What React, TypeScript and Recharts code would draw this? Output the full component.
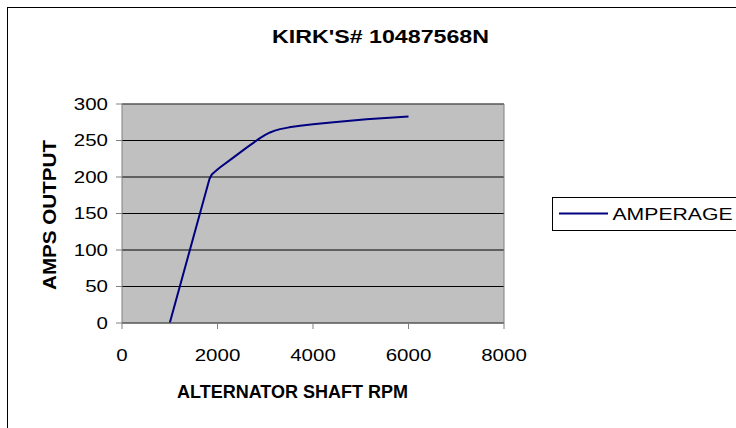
import React from 'react';
import { LineChart, Line, XAxis, YAxis, CartesianGrid, ReferenceLine } from 'recharts';

// readings
const rpm = [1000, 1830, 1880, 1950, 2050, 2330, 2610, 2890, 3000, 3100, 3200, 3310, 3500, 3730, 4000, 4430, 5120, 6000];
const amps = [0, 197, 203.5, 207.5, 213, 226.6, 240.3, 253.3, 257.8, 261, 263.5, 265.6, 268, 270.1, 272.2, 275.1, 279.2, 282.8];
const xTicks = [0, 2000, 4000, 6000, 8000];
const yTicks = [0, 50, 100, 150, 200, 250, 300];

const data = rpm.map((r, i) => ({ rpm: r, amps: amps[i] }));

const FONT = '"Liberation Sans", Arial, sans-serif';
const STRETCH = 1.28;

const YTick = (props: any) => {
  const { x, y, payload } = props;
  return (
    <g transform={`translate(${x - 6},${y}) scale(${STRETCH},1)`}>
      <text x={0} y={0} dy={5.7} textAnchor="end" fontSize={16} fontFamily={FONT} fill="#000">
        {payload.value}
      </text>
    </g>
  );
};

const XTick = (props: any) => {
  const { x, y, payload } = props;
  return (
    <g transform={`translate(${x},${y}) scale(${STRETCH},1)`}>
      <text x={0} y={0} dy={30} textAnchor="middle" fontSize={16} fontFamily={FONT} fill="#000">
        {payload.value}
      </text>
    </g>
  );
};

export default function App() {
  return (
    <div style={{ position: 'absolute', left: 0, top: 0, width: 736, height: 428, overflow: 'hidden', background: '#fff' }}>
      <div style={{ position: 'absolute', left: 7, top: 7, width: 800, height: 500, border: '1px solid #000' }} />
      <div style={{ position: 'absolute', left: 0, top: 0 }}>
        <LineChart width={736} height={428} data={data} margin={{ top: 104, right: 232, bottom: 65, left: 82 }}>
          <CartesianGrid vertical={false} stroke="#000" fill="#C0C0C0" fillOpacity={1} />
          <XAxis
            dataKey="rpm"
            type="number"
            domain={[0, 8000]}
            ticks={xTicks}
            height={40}
            axisLine={{ stroke: '#808080' }}
            tickLine={{ stroke: '#808080' }}
            tickSize={6}
            tick={<XTick />}
            interval={0}
          />
          <YAxis
            type="number"
            domain={[0, 300]}
            ticks={yTicks}
            width={40}
            axisLine={{ stroke: '#808080' }}
            tickLine={{ stroke: '#808080' }}
            tickSize={6}
            tick={<YTick />}
            interval={0}
          />
          <ReferenceLine y={300} stroke="#808080" />
          <ReferenceLine x={8000} stroke="#808080" />
          <Line
            type="linear"
            dataKey="amps"
            stroke="#000080"
            strokeWidth={2}
            strokeLinejoin="round"
            dot={false}
            isAnimationActive={false}
          />
        </LineChart>
      </div>
      <svg width={736} height={428} style={{ position: 'absolute', left: 0, top: 0, pointerEvents: 'none' }}>
        <text x={380.5} y={42.5} textAnchor="middle" fontSize={18} fontWeight="bold" fontFamily={FONT}
          textLength={217} lengthAdjust="spacingAndGlyphs">KIRK'S# 10487568N</text>
        <text x={292.5} y={398} textAnchor="middle" fontSize={18} fontWeight="bold" fontFamily={FONT}
          textLength={231} lengthAdjust="spacingAndGlyphs">ALTERNATOR SHAFT RPM</text>
        <text transform="translate(56,215) rotate(-90)" textAnchor="middle" fontSize={18} fontWeight="bold"
          fontFamily={FONT} textLength={150} lengthAdjust="spacingAndGlyphs">AMPS OUTPUT</text>
        <rect x={552.5} y={197.5} width={220} height={33} fill="#fff" stroke="#000" />
        <line x1={559} x2={608} y1={213.5} y2={213.5} stroke="#000080" strokeWidth={2} />
        <text x={612.5} y={219.5} fontSize={16} fontFamily={FONT} textLength={120}
          lengthAdjust="spacingAndGlyphs">AMPERAGE</text>
      </svg>
    </div>
  );
}
